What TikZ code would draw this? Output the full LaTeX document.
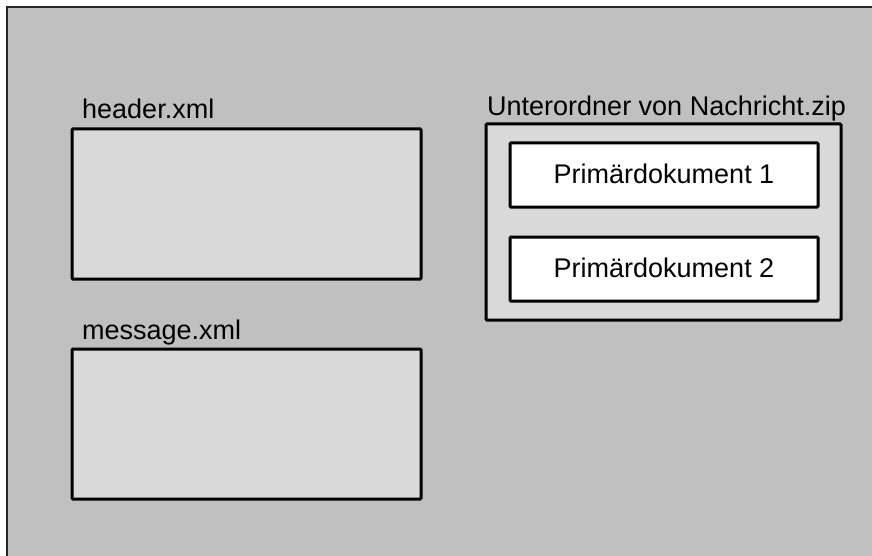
\documentclass[tikz,border=0pt]{standalone}
\usepackage{fontspec}
\setmainfont{Liberation Sans}
\begin{document}
\begin{tikzpicture}[x=1pt,y=-1pt,
  lbl/.style={font=\fontsize{27}{32}\selectfont, inner sep=0pt},
  box/.style={draw=black, line width=3pt, fill=boxgray, rounded corners=1pt},
  docbox/.style={draw=black, line width=3pt, fill=white, rounded corners=1pt}]
\definecolor{bggray}{HTML}{C0C0C0}
\definecolor{boxgray}{HTML}{D9D9D9}
\useasboundingbox (0,0) rectangle (872,556);
\begin{scope}
\clip (0,0) rectangle (872,556);
\draw[draw=black!85, line width=1.5pt, fill=bggray] (7,7) rectangle (890,580);
\end{scope}
\node[lbl, anchor=base west] (hl) at (82,119) {header.xml};
\draw[box] (72,129) rectangle (421,279);
\node[lbl, anchor=base west] (ml) at (82,339) {message.xml};
\draw[box] (72,349) rectangle (421,499);
\node[lbl, anchor=base west] (ul) at (487,116) {Unterordner von Nachricht.zip};
\draw[box] (486,124) rectangle (841,320);
\draw[docbox] (510,143) rectangle (818,207);
\node[lbl, anchor=base] (p1) at (664,183) {Primärdokument 1};
\draw[docbox] (510,237) rectangle (818,301);
\node[lbl, anchor=base] (p2) at (664,277) {Primärdokument 2};
\end{tikzpicture}
\end{document}
